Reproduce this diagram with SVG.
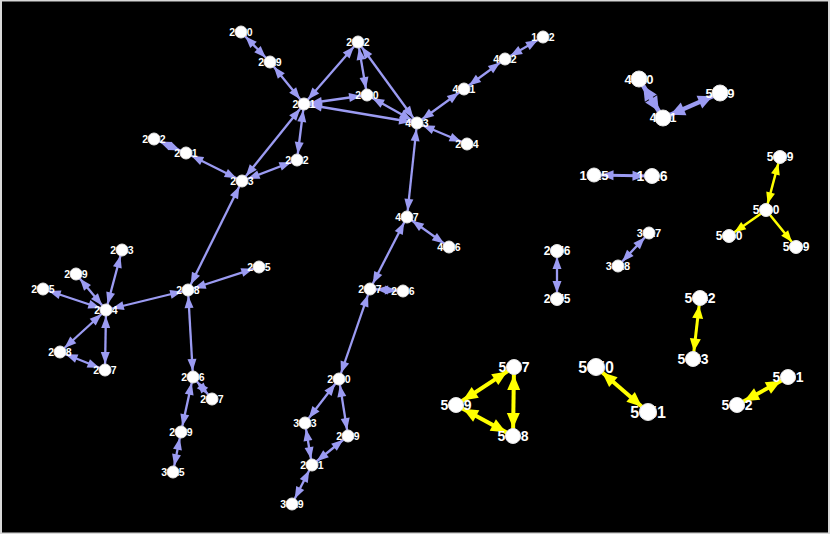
<svg xmlns="http://www.w3.org/2000/svg" width="830" height="534" viewBox="0 0 830 534">
<style>
.e{stroke:#9b9bf2;stroke-width:2.3;fill:none}
.em{stroke:#9b9bf2;stroke-width:3;fill:none}
.eL{stroke:#9b9bf2;stroke-width:4.5;fill:none}
.y{stroke:#ffff00;stroke-width:2.5;fill:none}
.yM{stroke:#ffff00;stroke-width:3;fill:none}
.yL{stroke:#ffff00;stroke-width:4;fill:none}
text{font-family:"Liberation Sans",Arial,sans-serif;font-weight:bold;fill:#ffffff;text-anchor:middle}
circle{fill:#ffffff;stroke:#e4e4e4;stroke-width:1}
</style>
<defs>
<marker id="mb" markerUnits="userSpaceOnUse" orient="auto-start-reverse" refX="18" refY="4.5" markerWidth="12" markerHeight="9" overflow="visible"><path d="M0,0 L12,4.5 L0,9 Z" fill="#9b9bf2"/></marker>
<marker id="mbM" markerUnits="userSpaceOnUse" orient="auto-start-reverse" refX="19.5" refY="5" markerWidth="12.5" markerHeight="10" overflow="visible"><path d="M0,0 L12.5,5 L0,10 Z" fill="#9b9bf2"/></marker>
<marker id="mbL" markerUnits="userSpaceOnUse" orient="auto-start-reverse" refX="22.5" refY="7" markerWidth="14.5" markerHeight="14" overflow="visible"><path d="M0,0 L14.5,7 L0,14 Z" fill="#9b9bf2"/></marker>
<marker id="my" markerUnits="userSpaceOnUse" orient="auto-start-reverse" refX="18" refY="4.5" markerWidth="11.5" markerHeight="9" overflow="visible"><path d="M0,0 L11.5,4.5 L0,9 Z" fill="#ffff00"/></marker>
<marker id="myM" markerUnits="userSpaceOnUse" orient="auto-start-reverse" refX="20.5" refY="5.5" markerWidth="13" markerHeight="11" overflow="visible"><path d="M0,0 L13,5.5 L0,11 Z" fill="#ffff00"/></marker>
<marker id="myL" markerUnits="userSpaceOnUse" orient="auto-start-reverse" refX="23" refY="6.5" markerWidth="15" markerHeight="13" overflow="visible"><path d="M0,0 L15,6.5 L0,13 Z" fill="#ffff00"/></marker>
</defs>
<rect x="0" y="0" width="830" height="534" fill="#d8d8d8"/>
<rect x="2" y="1.5" width="826" height="531" fill="#000000"/>
<g id="connectors">
<g marker-start="url(#mb)" marker-end="url(#mb)" class="e">
<line x1="241" y1="32" x2="270" y2="62"/>
<line x1="270" y1="62" x2="304" y2="104"/>
<line x1="358" y1="42" x2="304" y2="104"/>
<line x1="358" y1="42" x2="367" y2="95"/>
<line x1="358" y1="42" x2="417" y2="123"/>
<line x1="304" y1="104" x2="367" y2="95"/>
<line x1="304" y1="104" x2="417" y2="123"/>
<line x1="367" y1="95" x2="417" y2="123"/>
<line x1="417" y1="123" x2="464" y2="89"/>
<line x1="464" y1="89" x2="505" y2="59"/>
<line x1="505" y1="59" x2="543" y2="37"/>
<line x1="417" y1="123" x2="467" y2="144"/>
<line x1="304" y1="104" x2="297" y2="160"/>
<line x1="304" y1="104" x2="242" y2="181"/>
<line x1="242" y1="181" x2="297" y2="160"/>
<line x1="154" y1="139" x2="186" y2="153"/>
<line x1="186" y1="153" x2="242" y2="181"/>
<line x1="242" y1="181" x2="188" y2="290"/>
<line x1="188" y1="290" x2="259" y2="267"/>
<line x1="188" y1="290" x2="106" y2="310"/>
<line x1="106" y1="310" x2="122" y2="250"/>
<line x1="106" y1="310" x2="76" y2="274"/>
<line x1="106" y1="310" x2="43" y2="289"/>
<line x1="106" y1="310" x2="60" y2="352"/>
<line x1="106" y1="310" x2="105" y2="370"/>
<line x1="60" y1="352" x2="105" y2="370"/>
<line x1="188" y1="290" x2="193" y2="377"/>
<line x1="193" y1="377" x2="212" y2="399"/>
<line x1="193" y1="377" x2="181" y2="432"/>
<line x1="181" y1="432" x2="173" y2="472"/>
<line x1="417" y1="123" x2="407" y2="217"/>
<line x1="407" y1="217" x2="449" y2="247"/>
<line x1="407" y1="217" x2="370" y2="289"/>
<line x1="370" y1="289" x2="403" y2="291"/>
<line x1="370" y1="289" x2="339" y2="379"/>
<line x1="339" y1="379" x2="305" y2="423"/>
<line x1="339" y1="379" x2="348" y2="436"/>
<line x1="305" y1="423" x2="312" y2="465"/>
<line x1="348" y1="436" x2="312" y2="465"/>
<line x1="312" y1="465" x2="292" y2="504"/>
<line x1="649" y1="233" x2="618" y2="266"/>
<line x1="557" y1="251" x2="557" y2="299"/>
</g>
<line class="em" marker-start="url(#mbM)" marker-end="url(#mbM)" x1="594" y1="175" x2="652" y2="176"/>
<line class="eL" marker-start="url(#mbL)" marker-end="url(#mbL)" x1="639" y1="79" x2="663" y2="118"/>
<line class="eL" marker-start="url(#mbL)" marker-end="url(#mbL)" x1="663" y1="118" x2="720" y2="93"/>
<line class="y" marker-start="url(#my)" marker-end="url(#my)" x1="780" y1="157" x2="766" y2="210"/>
<line class="y" marker-end="url(#my)" x1="766" y1="210" x2="729" y2="236"/>
<line class="y" marker-end="url(#my)" x1="766" y1="210" x2="796" y2="247"/>
<line class="yM" marker-start="url(#myM)" marker-end="url(#myM)" x1="700" y1="298" x2="693" y2="359"/>
<line class="yL" marker-start="url(#myL)" marker-end="url(#myL)" x1="596" y1="367" x2="648" y2="412"/>
<line class="yL" marker-start="url(#myL)" marker-end="url(#myL)" x1="788" y1="377" x2="737" y2="405"/>
<line class="yL" marker-start="url(#myL)" marker-end="url(#myL)" x1="514" y1="367" x2="456" y2="405"/>
<line class="yL" marker-start="url(#myL)" marker-end="url(#myL)" x1="456" y1="405" x2="513" y2="436"/>
<line class="yL" marker-start="url(#myL)" marker-end="url(#myL)" x1="514" y1="367" x2="513" y2="436"/>
</g>
<g id="nodes" font-size="10.5">
<g id="a1"><text x="241" y="35.8">2010</text><circle cx="241" cy="32" r="6"/></g>
<g id="a2"><text x="270" y="65.8">2019</text><circle cx="270" cy="62" r="6"/></g>
<g id="a3"><text x="358" y="45.8">2012</text><circle cx="358" cy="42" r="6"/></g>
<g id="a4"><text x="304" y="107.8">2011</text><circle cx="304" cy="104" r="6"/></g>
<g id="a5"><text x="367" y="98.8">2020</text><circle cx="367" cy="95" r="6"/></g>
<g id="a6"><text x="417" y="126.8">4013</text><circle cx="417" cy="123" r="6"/></g>
<g id="a7"><text x="464" y="92.8">4011</text><circle cx="464" cy="89" r="6"/></g>
<g id="a8"><text x="505" y="62.8">4012</text><circle cx="505" cy="59" r="6"/></g>
<g id="a9"><text x="543" y="40.8">1012</text><circle cx="543" cy="37" r="6"/></g>
<g id="a10"><text x="467" y="147.8">2024</text><circle cx="467" cy="144" r="6"/></g>
<g id="a11"><text x="297" y="163.8">2022</text><circle cx="297" cy="160" r="6"/></g>
<g id="a12"><text x="154" y="142.8">2032</text><circle cx="154" cy="139" r="6"/></g>
<g id="a13"><text x="186" y="156.8">2031</text><circle cx="186" cy="153" r="6"/></g>
<g id="a14"><text x="242" y="184.8">2033</text><circle cx="242" cy="181" r="6"/></g>
<g id="a15"><text x="122" y="253.8">2043</text><circle cx="122" cy="250" r="6"/></g>
<g id="a16"><text x="76" y="277.8">2049</text><circle cx="76" cy="274" r="6"/></g>
<g id="a17"><text x="43" y="292.8">2045</text><circle cx="43" cy="289" r="6"/></g>
<g id="a18"><text x="106" y="313.8">2044</text><circle cx="106" cy="310" r="6"/></g>
<g id="a19"><text x="188" y="293.8">2038</text><circle cx="188" cy="290" r="6"/></g>
<g id="a20"><text x="259" y="270.8">2035</text><circle cx="259" cy="267" r="6"/></g>
<g id="a21"><text x="60" y="355.8">2048</text><circle cx="60" cy="352" r="6"/></g>
<g id="a22"><text x="105" y="373.8">2047</text><circle cx="105" cy="370" r="6"/></g>
<g id="a23"><text x="193" y="380.8">2036</text><circle cx="193" cy="377" r="6"/></g>
<g id="a24"><text x="212" y="402.8">2037</text><circle cx="212" cy="399" r="6"/></g>
<g id="a25"><text x="181" y="435.8">2039</text><circle cx="181" cy="432" r="6"/></g>
<g id="a26"><text x="173" y="475.8">3015</text><circle cx="173" cy="472" r="6"/></g>
<g id="a27"><text x="407" y="220.8">4017</text><circle cx="407" cy="217" r="6"/></g>
<g id="a28"><text x="449" y="250.8">4016</text><circle cx="449" cy="247" r="6"/></g>
<g id="a29"><text x="370" y="292.8">2057</text><circle cx="370" cy="289" r="6"/></g>
<g id="a30"><text x="403" y="294.8">2056</text><circle cx="403" cy="291" r="6"/></g>
<g id="a31"><text x="339" y="382.8">2060</text><circle cx="339" cy="379" r="6"/></g>
<g id="a32"><text x="305" y="426.8">3013</text><circle cx="305" cy="423" r="6"/></g>
<g id="a33"><text x="348" y="439.8">2069</text><circle cx="348" cy="436" r="6"/></g>
<g id="a34"><text x="312" y="468.8">2061</text><circle cx="312" cy="465" r="6"/></g>
<g id="a35"><text x="292" y="507.8">3019</text><circle cx="292" cy="504" r="6"/></g>
<g id="b1"><text x="639" y="83.7" font-size="13">4010</text><circle cx="639" cy="79" r="8"/></g>
<g id="b2"><text x="663" y="122.3" font-size="12">4021</text><circle cx="663" cy="118" r="8"/></g>
<g id="b3"><text x="720" y="97.7" font-size="13">5019</text><circle cx="720" cy="93" r="8"/></g>
<g id="b4"><text x="594" y="179.7" font-size="13">1015</text><circle cx="594" cy="175" r="7"/></g>
<g id="b5"><text x="652" y="181" font-size="14">1016</text><circle cx="652" cy="176" r="7.5"/></g>
<g id="b6"><text x="557" y="255.3" font-size="12">2076</text><circle cx="557" cy="251" r="6.5"/></g>
<g id="b7"><text x="557" y="303.3" font-size="12">2075</text><circle cx="557" cy="299" r="6.5"/></g>
<g id="b8"><text x="649" y="237" font-size="11">3017</text><circle cx="649" cy="233" r="6"/></g>
<g id="b9"><text x="618" y="270" font-size="11">3018</text><circle cx="618" cy="266" r="6"/></g>
<g id="c1"><text x="780" y="161.3" font-size="12">5029</text><circle cx="780" cy="157" r="6.5"/></g>
<g id="c2"><text x="766" y="214.3" font-size="12">5030</text><circle cx="766" cy="210" r="6.5"/></g>
<g id="c3"><text x="729" y="240.3" font-size="12">5040</text><circle cx="729" cy="236" r="6.5"/></g>
<g id="c4"><text x="796" y="251.3" font-size="12">5039</text><circle cx="796" cy="247" r="6.5"/></g>
<g id="c5"><text x="700" y="303" font-size="14">5042</text><circle cx="700" cy="298" r="7.5"/></g>
<g id="c6"><text x="693" y="364" font-size="14">5043</text><circle cx="693" cy="359" r="7.5"/></g>
<g id="c7"><text x="596" y="372.8" font-size="16">5050</text><circle cx="596" cy="367" r="8.5"/></g>
<g id="c8"><text x="648" y="417.8" font-size="16">5051</text><circle cx="648" cy="412" r="8.5"/></g>
<g id="c9"><text x="788" y="382" font-size="14">5061</text><circle cx="788" cy="377" r="7.5"/></g>
<g id="c10"><text x="737" y="410" font-size="14">5062</text><circle cx="737" cy="405" r="7.5"/></g>
<g id="c11"><text x="514" y="372" font-size="14">5067</text><circle cx="514" cy="367" r="7.5"/></g>
<g id="c12"><text x="456" y="410" font-size="14">5069</text><circle cx="456" cy="405" r="7.5"/></g>
<g id="c13"><text x="513" y="441" font-size="14">5068</text><circle cx="513" cy="436" r="7.5"/></g>
</g>
</svg>
